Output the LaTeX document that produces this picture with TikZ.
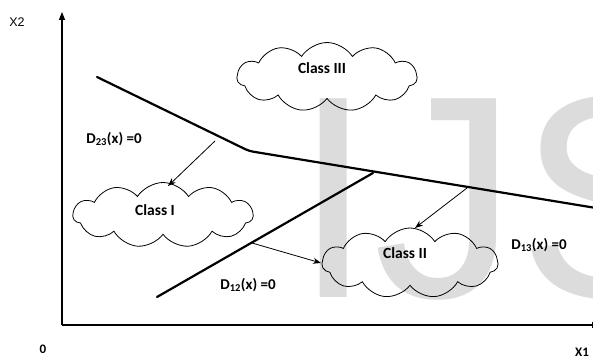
\documentclass[tikz,border=0pt]{standalone}
\usepackage{fontspec}
\setmainfont{Carlito}
\newfontfamily\arialfont{Liberation Sans}
\usetikzlibrary{shapes.symbols,arrows.meta}
\definecolor{wmgray}{RGB}{220,220,220}
\begin{document}
\begin{tikzpicture}[x=1pt,y=-1pt,
  boundary/.style={line width=2.2pt, line cap=round, line join=round},
  axis/.style={line width=1.1pt},
  pointer/.style={line width=0.8pt, -{Stealth[length=8pt,width=6pt]}},
  region/.style={cloud, cloud puffs=11, cloud puff arc=115, cloud ignores aspect,
                 draw, line width=0.8pt, inner sep=0pt},
  classlbl/.style={font=\bfseries\fontsize{15.5}{18}\selectfont, inner sep=0pt},
  eqlbl/.style={font=\bfseries\fontsize{15}{18}\selectfont, inner sep=0pt},
  axlbl/.style={font=\arialfont\fontsize{12.5}{14}\selectfont, inner sep=0pt},
  numlbl/.style={font=\bfseries\fontsize{13}{15}\selectfont, inner sep=0pt}]
\useasboundingbox (0,0) rectangle (593,358);
\clip (0,0) rectangle (593,358);

% background watermark
\node[anchor=base west, inner sep=0pt, text=wmgray,
      font=\arialfont\fontsize{289}{289}\selectfont] (wmark) at (293,297) {IJSER};

% axes
\coordinate (O) at (62,325);
\coordinate (ytop) at (62,12);
\coordinate (xend) at (600,325);
\draw[axis, -{Triangle[length=8pt,width=6pt]}] (O) -- (ytop);
\draw[axis, -{Triangle[length=8pt,width=6pt]}] (O) -- (xend);
\node[axlbl] (lx2) at (17,22) {X2};
\node[numlbl] (lzero) at (43,349) {0};
\node[numlbl] (lx1) at (582,352) {X1};

% class regions
\node[region, minimum width=180pt, minimum height=69pt] (c3) at (327,77) {};
\node[region, minimum width=180pt, minimum height=65pt] (c1) at (163,215) {};
\node[region, minimum width=176pt, minimum height=70pt] (c2) at (410,263) {};
\node[classlbl] (t3) at (322,68) {Class III};
\node[classlbl] (t1) at (155,210) {Class I};
\node[classlbl] (t2) at (405,253) {Class II};

% decision boundaries
\coordinate (d23a) at (97,77);
\coordinate (d23b) at (249,151);
\coordinate (d23c) at (596,208);
\coordinate (d12a) at (157,297);
\coordinate (d12b) at (373,173);
\draw[boundary, rounded corners=4pt] (d23a) -- (d23b) -- (d23c);
\draw[boundary] (d12a) -- (d12b);

% boundary labels
\node[eqlbl] (e23) at (114,139) {D\textsubscript{23}(x) =0};
\node[eqlbl] (e12) at (248,285) {D\textsubscript{12}(x) =0};
\node[eqlbl] (e13) at (539,245) {D\textsubscript{13}(x) =0};

% pointers from boundaries to classes
\coordinate (p1s) at (215,141);
\coordinate (p1e) at (168,186);
\coordinate (p2s) at (467,188);
\coordinate (p2e) at (415,228);
\coordinate (p3s) at (252,243);
\coordinate (p3e) at (321,263);
\draw[pointer] (p1s) -- (p1e);
\draw[pointer] (p2s) -- (p2e);
\draw[pointer] (p3s) -- (p3e);
\end{tikzpicture}
\end{document}
